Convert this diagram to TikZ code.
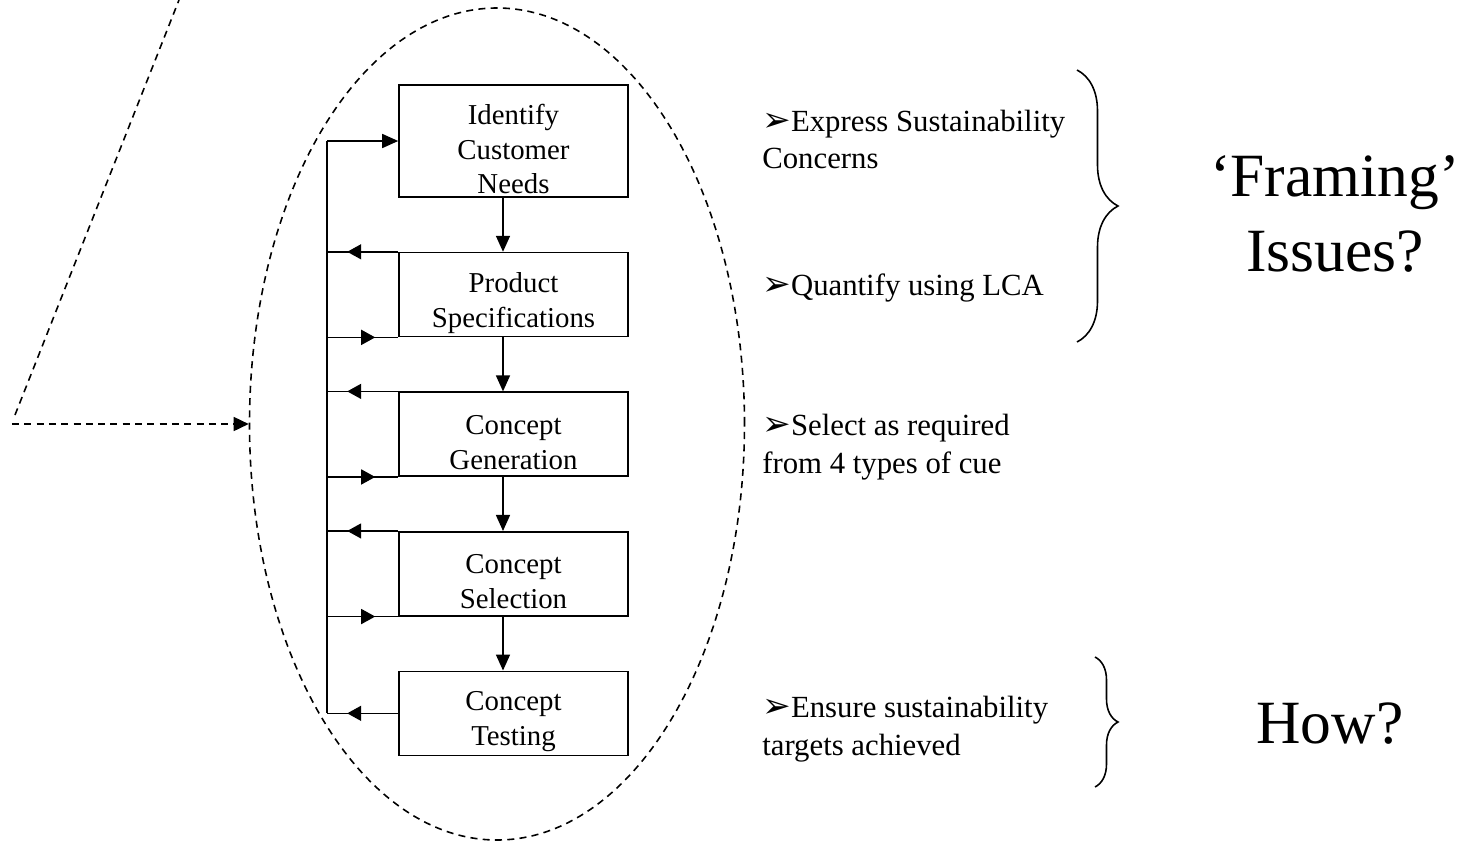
\documentclass[tikz,border=0pt]{standalone}
\usepackage{fontspec}
\setmainfont{Liberation Serif}
\newfontfamily\dingfont{DejaVu Sans}
\usetikzlibrary{shapes.geometric, arrows.meta, positioning, calc, decorations.pathreplacing, decorations.markings}
\tikzstyle{stage} = [rectangle, draw=black, line width=0.9pt, minimum width=4.58cm, minimum height=1.68cm, inner sep=0pt]
\tikzstyle{stagetext} = [align=center, inner sep=0pt, font=\fontsize{16.4}{19.9}\selectfont]
\tikzstyle{note} = [align=left, anchor=west, inner sep=0pt, font=\fontsize{17.5}{21.5}\selectfont]
\tikzstyle{big} = [align=center, inner sep=0pt, font=\fontsize{35}{42.7}\selectfont]
\tikzstyle{link} = [line width=0.9pt]
\tikzstyle{arrow} = [link, -{Triangle[length=0.32cm, width=0.28cm]}]
\tikzstyle{backarrow} = [link, postaction={decorate}, decoration={markings,
    mark=at position 1.02cm with {\arrow{Triangle[length=0.28cm, width=0.3cm]}}}]
\tikzstyle{fwdarrow} = [link, postaction={decorate}, decoration={markings,
    mark=at position 0.96cm with {\arrow{Triangle[length=0.28cm, width=0.3cm]}}}]
\tikzstyle{dashline} = [line width=0.9pt, dash pattern=on 4pt off 3pt]
\tikzstyle{bracket} = [line width=0.9pt, decorate, decoration={brace, amplitude=0.82cm}]
\newcommand{\cue}{{\dingfont\fontsize{19.5}{21.5}\selectfont ➢}}

\begin{document}
\begin{tikzpicture}[node distance=1.08cm]
\useasboundingbox (-10.27,-14.0) rectangle (19.21,2.82);

% design stages
\node (need) [stage, minimum height=2.24cm, label={[stagetext, yshift=-0.16cm]center:{Identify\\Customer\\Needs}}] {};
\node (spec) [stage, below=of need, label={[stagetext, yshift=-0.16cm]center:{Product\\Specifications}}] {};
\node (gen) [stage, below=of spec, label={[stagetext, yshift=-0.16cm]center:{Concept\\Generation}}] {};
\node (sel) [stage, below=of gen, label={[stagetext, yshift=-0.16cm]center:{Concept\\Selection}}] {};
\node (test) [stage, below=of sel, label={[stagetext, yshift=-0.16cm]center:{Concept\\Testing}}] {};

% dashed loop round the stages
\node (cycle) [ellipse, dashline, draw, minimum width=9.9cm, minimum height=16.64cm, inner sep=0pt] at (-0.33,-5.66) {};
\coordinate (feedin) at (-10.03,-5.66);
\coordinate (slantlow) at (-9.97,-5.48);
\coordinate (slanttop) at (-6.69,2.82);

% feedback rail
\coordinate (railtop) at ([xshift=-1.42cm]need.west);
\coordinate (railbot) at ([xshift=-1.42cm]test.west);

% notes
\node (express) [note] at (4.97,0.03) {\cue Express Sustainability\\Concerns};
\node (lca) [note] at (4.97,-2.94) {\cue Quantify using LCA};
\node (cues) [note] at (4.97,-6.12) {\cue Select as required\\from 4 types of cue};
\node (ensure) [note] at (4.97,-11.76) {\cue Ensure sustainability\\targets achieved};
\node (framing) [big] at (16.43,-1.45) {`Framing'\\Issues?};
\node (how) [big] at (16.33,-11.66) {How?};

\draw[arrow] ([xshift=-0.21cm]need.south) -- ([xshift=-0.21cm]spec.north);
\draw[arrow] ([xshift=-0.21cm]spec.south) -- ([xshift=-0.21cm]gen.north);
\draw[arrow] ([xshift=-0.21cm]gen.south) -- ([xshift=-0.21cm]sel.north);
\draw[arrow] ([xshift=-0.21cm]sel.south) -- ([xshift=-0.21cm]test.north);

\draw[link] (railtop) -- (railbot);
\draw[arrow] (railtop) -- (need.west);
\draw[backarrow] (spec.north west) -- (spec.north west -| railtop);
\draw[fwdarrow] (spec.south west -| railtop) -- (spec.south west);
\draw[backarrow] (gen.north west) -- (gen.north west -| railtop);
\draw[fwdarrow] (gen.south west -| railtop) -- (gen.south west);
\draw[backarrow] (sel.north west) -- (sel.north west -| railtop);
\draw[fwdarrow] (sel.south west -| railtop) -- (sel.south west);
\draw[backarrow] (test.west) -- (railbot);

\draw[dashline, -{Triangle[length=0.3cm, width=0.28cm]}] (feedin) -- (cycle.west);
\draw[dashline] (slantlow) -- (slanttop);

\draw[bracket] (11.27,1.42) -- (11.27,-4.02);
\draw[bracket, decoration={brace, amplitude=0.46cm}] (11.63,-10.32) -- (11.63,-12.92);
\end{tikzpicture}
\end{document}
